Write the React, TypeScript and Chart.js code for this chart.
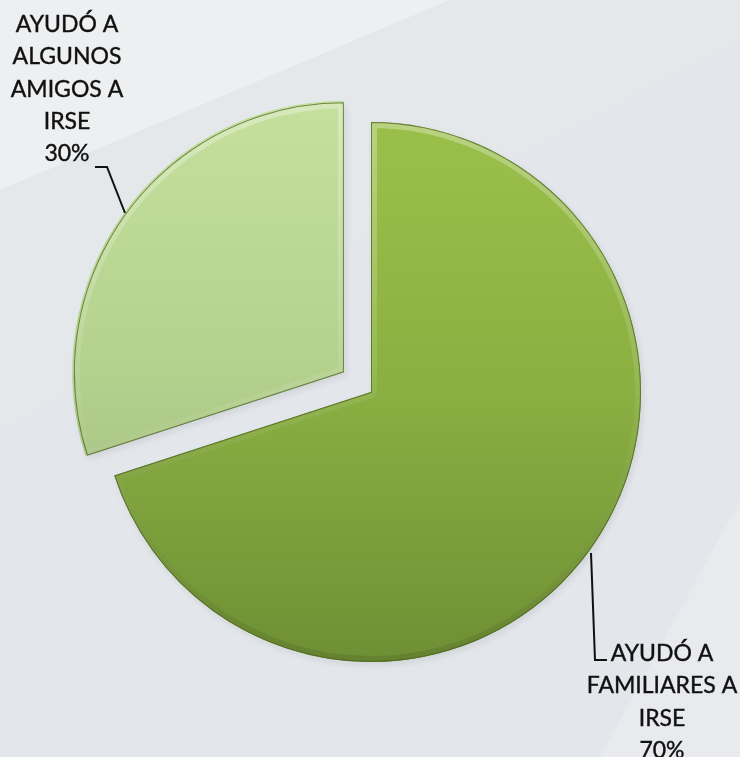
import React, { useEffect, useRef } from "react";
import { Chart, registerables } from "chart.js";

Chart.register(...registerables);

const categories = ["AYUDÓ A FAMILIARES A IRSE", "AYUDÓ A ALGUNOS AMIGOS A IRSE"];
const values = [70, 30];
const labelLines = [
  ["AYUDÓ A", "FAMILIARES A", "IRSE"],
  ["AYUDÓ A", "ALGUNOS", "AMIGOS A", "IRSE"],
];
const explode = [0, 134];

const FONT = "23px Lato, 'Open Sans', sans-serif";

function arcPath(ctx: CanvasRenderingContext2D, el: any) {
  const off = ((el.options.offset || 0) / 4);
  const half = (el.startAngle + el.endAngle) / 2;
  const cx = el.x + Math.cos(half) * off;
  const cy = el.y + Math.sin(half) * off;
  ctx.beginPath();
  ctx.moveTo(cx, cy);
  ctx.arc(cx, cy, el.outerRadius, el.startAngle, el.endAngle);
  ctx.closePath();
  return { cx, cy };
}

const bgPlugin = {
  id: "bg",
  beforeDraw(chart: any) {
    const ctx = chart.ctx as CanvasRenderingContext2D;
    const w = chart.width, h = chart.height;
    ctx.save();
    ctx.fillStyle = "#e3e6ea";
    ctx.fillRect(0, 0, w, h);
    ctx.fillStyle = "rgba(255,255,255,0.35)";
    ctx.beginPath();
    ctx.moveTo(0, 0);
    ctx.lineTo(450, 0);
    ctx.lineTo(0, 190);
    ctx.closePath();
    ctx.fill();
    ctx.fillStyle = "rgba(255,255,255,0.08)";
    ctx.beginPath();
    ctx.moveTo(0, 190);
    ctx.lineTo(450, 0);
    ctx.lineTo(740, 0);
    ctx.lineTo(740, 40);
    ctx.lineTo(0, 430);
    ctx.closePath();
    ctx.fill();
    ctx.fillStyle = "rgba(255,255,255,0.18)";
    ctx.beginPath();
    ctx.moveTo(740, 500);
    ctx.lineTo(740, 757);
    ctx.lineTo(600, 757);
    ctx.closePath();
    ctx.fill();
    ctx.restore();
  },
};

const shadePlugin = {
  id: "shade",
  beforeDatasetsDraw(chart: any) {
    const ctx = chart.ctx as CanvasRenderingContext2D;
    const meta = chart.getDatasetMeta(0);
    ctx.save();
    meta.data.forEach((el: any) => {
      arcPath(ctx, el);
      ctx.shadowColor = "rgba(0,0,0,0.35)";
      ctx.shadowBlur = 7;
      ctx.shadowOffsetX = 2;
      ctx.shadowOffsetY = 3;
      ctx.fillStyle = "rgba(0,0,0,0.25)";
      ctx.fill();
    });
    ctx.restore();
  },
  afterDatasetsDraw(chart: any) {
    const ctx = chart.ctx as CanvasRenderingContext2D;
    const meta = chart.getDatasetMeta(0);
    meta.data.forEach((el: any) => {
      ctx.save();
      arcPath(ctx, el);
      ctx.clip();
      const g = ctx.createLinearGradient(0, el.y - el.outerRadius, 0, el.y + el.outerRadius);
      g.addColorStop(0, "rgba(255,255,255,0.3)");
      g.addColorStop(0.5, "rgba(255,255,255,0.08)");
      g.addColorStop(1, "rgba(0,0,0,0.1)");
      ctx.strokeStyle = g;
      ctx.lineWidth = 12;
      ctx.lineJoin = "round";
      arcPath(ctx, el);
      ctx.stroke();
      ctx.strokeStyle = "rgba(75,100,30,0.75)";
      ctx.lineWidth = 2;
      arcPath(ctx, el);
      ctx.stroke();
      ctx.restore();
    });
  },
};

const labelPlugin = {
  id: "pieLabels",
  afterDraw(chart: any) {
    const ctx = chart.ctx as CanvasRenderingContext2D;
    const total = values.reduce((a, b) => a + b, 0);
    ctx.save();
    ctx.font = FONT;
    ctx.fillStyle = "#111";
    ctx.strokeStyle = "#111";
    ctx.lineWidth = 0.4;
    ctx.textAlign = "center";
    ctx.textBaseline = "alphabetic";
    const lh = 32.3;
    const l0 = [...labelLines[0], Math.round((values[0] / total) * 100) + "%"];
    l0.forEach((t, i) => {
      ctx.fillText(t, 662, 661 + i * lh);
      ctx.strokeText(t, 662, 661 + i * lh);
    });
    const l1 = [...labelLines[1], Math.round((values[1] / total) * 100) + "%"];
    l1.forEach((t, i) => {
      ctx.fillText(t, 67, 32 + i * lh);
      ctx.strokeText(t, 67, 32 + i * lh);
    });
    ctx.lineWidth = 2;
    ctx.beginPath();
    ctx.moveTo(591, 553);
    ctx.lineTo(595, 660);
    ctx.lineTo(607, 660);
    ctx.stroke();
    ctx.beginPath();
    ctx.moveTo(95, 167);
    ctx.lineTo(107, 167);
    ctx.lineTo(125, 213);
    ctx.stroke();
    ctx.restore();
  },
};

export default function App() {
  const ref = useRef<HTMLCanvasElement>(null);
  useEffect(() => {
    if (!ref.current) return;
    const chart = new Chart(ref.current, {
      type: "pie",
      data: {
        labels: categories,
        datasets: [
          {
            data: values,
            offset: explode,
            borderWidth: 0,
            backgroundColor: (c: any) => {
              const ch = c.chart;
              const ctx = ch.ctx as CanvasRenderingContext2D;
              if (!ch.chartArea) return "#8aaf40";
              const g = ctx.createLinearGradient(0, 100, 0, 665);
              if (c.dataIndex === 0) {
                g.addColorStop(0, "#9cc14a");
                g.addColorStop(0.5, "#8bb042");
                g.addColorStop(1, "#6e8f34");
              } else {
                g.addColorStop(0, "#c6e19e");
                g.addColorStop(0.5, "#b4d18e");
                g.addColorStop(1, "#9cb67a");
              }
              return g;
            },
          } as any,
        ],
      },
      options: {
        animation: false,
        responsive: true,
        maintainAspectRatio: false,
        radius: 270,
        layout: { padding: { left: 2, right: 0, top: 27, bottom: 0 } },
        plugins: {
          legend: { display: false },
          tooltip: { enabled: false },
        },
      } as any,
      plugins: [bgPlugin, shadePlugin, labelPlugin],
    });
    return () => chart.destroy();
  }, []);
  return (
    <div style={{ position: "fixed", left: 0, top: 0, width: 740, height: 757 }}>
      <canvas ref={ref} />
    </div>
  );
}
